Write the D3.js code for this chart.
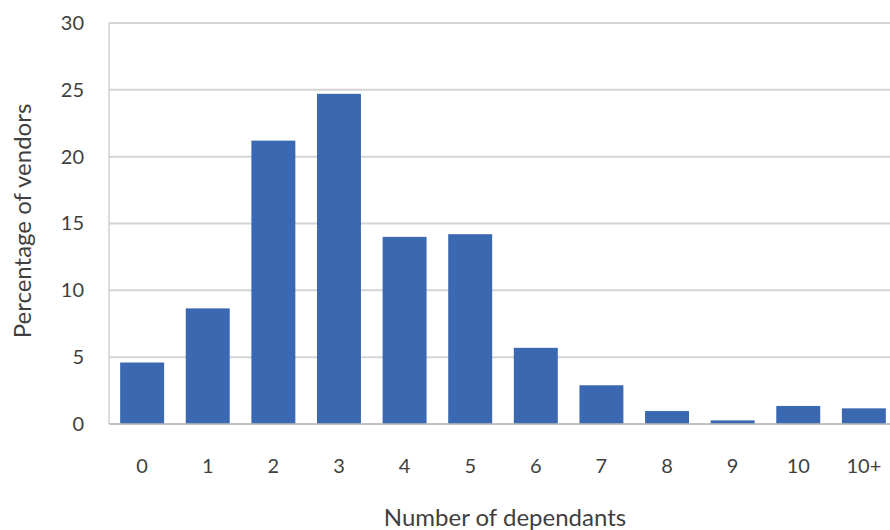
<!DOCTYPE html>
<html>
<head>
<meta charset="utf-8">
<script src="https://cdn.jsdelivr.net/npm/d3@7"></script>
<style>
  html, body { margin: 0; padding: 0; background: #fff; overflow: hidden; }
  svg { display: block; font-family: Lato, "Open Sans", sans-serif; }
</style>
</head>
<body>
<svg id="chart" width="890" height="530"></svg>
<script>
// Share of vendors by number of dependants
const categories = ["0", "1", "2", "3", "4", "5", "6", "7", "8", "9", "10", "10+"];
const percentages = [4.6, 8.65, 21.2, 24.7, 14.0, 14.2, 5.7, 2.9, 0.97, 0.27, 1.35, 1.17];
const yTicks = [0, 5, 10, 15, 20, 25, 30];

const svg = d3.select("#chart");
const plot = { left: 109, right: 897, top: 23, bottom: 424 };
const textColor = "#3f3f3f";

const x = d3.scaleBand()
  .domain(categories)
  .range([plot.left, plot.right])
  .paddingInner(0.33)
  .paddingOuter(0.17);

const y = d3.scaleLinear()
  .domain([0, 30])
  .range([plot.bottom, plot.top]);

// horizontal gridlines
svg.append("g")
  .selectAll("line")
  .data(yTicks)
  .join("line")
  .attr("x1", plot.left)
  .attr("x2", plot.right)
  .attr("y1", d => y(d))
  .attr("y2", d => y(d))
  .attr("stroke", "#d4d4d4")
  .attr("stroke-width", 2);

// left axis line
svg.append("line")
  .attr("x1", plot.left).attr("x2", plot.left)
  .attr("y1", y(30)).attr("y2", y(0))
  .attr("stroke", "#cfcfcf")
  .attr("stroke-width", 1.5);

// bars
svg.append("g")
  .selectAll("rect")
  .data(categories.map((c, i) => ({ c, v: percentages[i] })))
  .join("rect")
  .attr("x", d => x(d.c))
  .attr("width", x.bandwidth())
  .attr("y", d => y(d.v))
  .attr("height", d => y(0) - y(d.v))
  .attr("fill", "#3a69b1");

// baseline
svg.append("line")
  .attr("x1", plot.left).attr("x2", plot.right)
  .attr("y1", y(0)).attr("y2", y(0))
  .attr("stroke", "#bdbdbd")
  .attr("stroke-width", 1.5);

// y axis tick labels
const yAxis = d3.axisLeft(y).tickValues(yTicks).tickSize(0).tickPadding(0);
const gy = svg.append("g")
  .attr("transform", `translate(84,0)`)
  .call(yAxis);
gy.select(".domain").remove();
gy.selectAll("text")
  .attr("font-size", 20)
  .attr("fill", textColor)
  .attr("font-family", "Lato, 'Open Sans', sans-serif");

// x axis category labels
const xAxis = d3.axisBottom(x).tickSize(0).tickPadding(0);
const gx = svg.append("g")
  .attr("transform", `translate(0,459)`)
  .call(xAxis);
gx.select(".domain").remove();
gx.selectAll("text")
  .attr("dy", "0.36em")
  .attr("y", 7)
  .attr("font-size", 20)
  .attr("fill", textColor)
  .attr("font-family", "Lato, 'Open Sans', sans-serif");

// axis titles
svg.append("text")
  .attr("x", 505)
  .attr("y", 526)
  .attr("text-anchor", "middle")
  .attr("font-size", 24)
  .attr("fill", textColor)
  .text("Number of dependants");

svg.append("text")
  .attr("transform", "translate(31,221) rotate(-90)")
  .attr("text-anchor", "middle")
  .attr("font-size", 24)
  .attr("fill", textColor)
  .text("Percentage of vendors");
</script>
</body>
</html>
